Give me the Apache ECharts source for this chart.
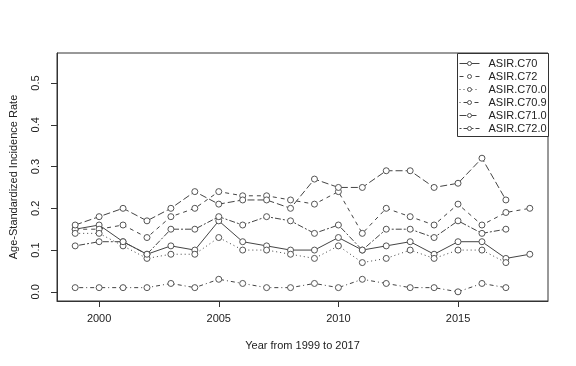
<!DOCTYPE html>
<html>
<head>
<meta charset="utf-8">
<script src="https://cdn.jsdelivr.net/npm/echarts@6/dist/echarts.min.js"></script>
<style>html,body{margin:0;padding:0;background:#fff}#c{width:576px;height:366px}</style>
</head>
<body>
<div id="c"></div>
<script>
const years = [1999,2000,2001,2002,2003,2004,2005,2006,2007,2008,2009,2010,2011,2012,2013,2014,2015,2016,2017,2018];
const asirC70   = [0.15,0.16,0.12,0.09,0.11,0.10,0.17,0.12,0.11,0.10,0.10,0.13,0.10,0.11,0.12,0.09,0.12,0.12,0.08,0.09];
const asirC72   = [0.15,0.15,0.16,0.13,0.18,0.20,0.24,0.23,0.23,0.22,0.21,0.24,0.14,0.20,0.18,0.16,0.21,0.16,0.19,0.20];
const asirC700  = [0.14,0.14,0.11,0.08,0.09,0.09,0.13,0.10,0.10,0.09,0.08,0.11,0.07,0.08,0.10,0.08,0.10,0.10,0.07];
const asirC709  = [0.01,0.01,0.01,0.01,0.02,0.01,0.03,0.02,0.01,0.01,0.02,0.01,0.03,0.02,0.01,0.01,0.00,0.02,0.01];
const asirC710  = [0.16,0.18,0.20,0.17,0.20,0.24,0.21,0.22,0.22,0.20,0.27,0.25,0.25,0.29,0.29,0.25,0.26,0.32,0.22];
const asirC720  = [0.11,0.12,0.12,0.09,0.15,0.15,0.18,0.16,0.18,0.17,0.14,0.16,0.10,0.15,0.15,0.13,0.17,0.14,0.15];
const seriesNames = ['ASIR.C70','ASIR.C72','ASIR.C70.0','ASIR.C70.9','ASIR.C71.0','ASIR.C72.0'];
const seriesValues = [asirC70, asirC72, asirC700, asirC709, asirC710, asirC720];
const xTicks = [2000,2005,2010,2015];
const yTicks = [0,0.1,0.2,0.3,0.4,0.5];
const dashes = ['solid',[4,4],[1,3],[1,3,4,3],[7,3],[2,2,6,2]];

const lineColor = '#444';
const symColor = '#555';
const textColor = '#222';
const font = 'Liberation Sans, Arial, sans-serif';

const chart = echarts.init(document.getElementById('c'), null, {renderer:'canvas'});
chart.setOption({
  animation: false,
  backgroundColor: '#fff',
  grid: {left: 53, right: 28, top: 53, bottom: 65, show: true, borderColor: '#333', borderWidth: 1, backgroundColor: 'transparent'},
  xAxis: {
    type: 'value', min: 1998.24, max: 2018.76,
    name: 'Year from 1999 to 2017', nameLocation: 'middle', nameGap: 39,
    nameTextStyle: {fontSize: 11, color: textColor, fontFamily: font},
    axisLine: {show: true, onZero: false, lineStyle: {color: '#333'}},
    axisTick: {show: true, length: 6, lineStyle: {color: '#333'}, customValues: xTicks},
    axisLabel: {customValues: xTicks, fontSize: 11, color: textColor, fontFamily: font, margin: 12, formatter: v => String(v)},
    splitLine: {show: false}
  },
  yAxis: {
    type: 'value', min: -0.022, max: 0.572,
    name: 'Age-Standardized Incidence Rate', nameLocation: 'middle', nameGap: 38,
    nameTextStyle: {fontSize: 11, color: textColor, fontFamily: font},
    axisLine: {show: true, onZero: false, lineStyle: {color: '#333'}},
    axisTick: {show: true, length: 6, lineStyle: {color: '#333'}, customValues: yTicks},
    axisLabel: {customValues: yTicks, rotate: 90, fontSize: 11, color: textColor, fontFamily: font, margin: 16, formatter: v => v.toFixed(1)},
    splitLine: {show: false}
  },
  legend: {
    orient: 'vertical', left: 459, top: 57,
    data: seriesNames,
    itemWidth: 20, itemHeight: 5, itemGap: 0,
    itemStyle: {color: '#fff', borderColor: symColor, borderWidth: 1},
    lineStyle: {width: 1, color: lineColor},
    textStyle: {fontSize: 11, color: textColor, fontFamily: font, lineHeight: 13, padding: [0,0,0,4]},
    padding: 0
  },
  graphic: [{
    type: 'rect', left: 457, top: 53, z: 3,
    shape: {width: 91, height: 83},
    style: {fill: '#fff', stroke: '#333', lineWidth: 1}
  }],
  series: seriesNames.map((name, i) => ({
    name: name,
    type: 'line',
    data: seriesValues[i].map((v, j) => [years[j], v]),
    symbol: 'circle',
    symbolSize: 6,
    showAllSymbol: true,
    lineStyle: {color: lineColor, width: 1, type: dashes[i]},
    itemStyle: {color: '#fff', borderColor: symColor, borderWidth: 1},
    z: 2
  }))
});
</script>
</body>
</html>
